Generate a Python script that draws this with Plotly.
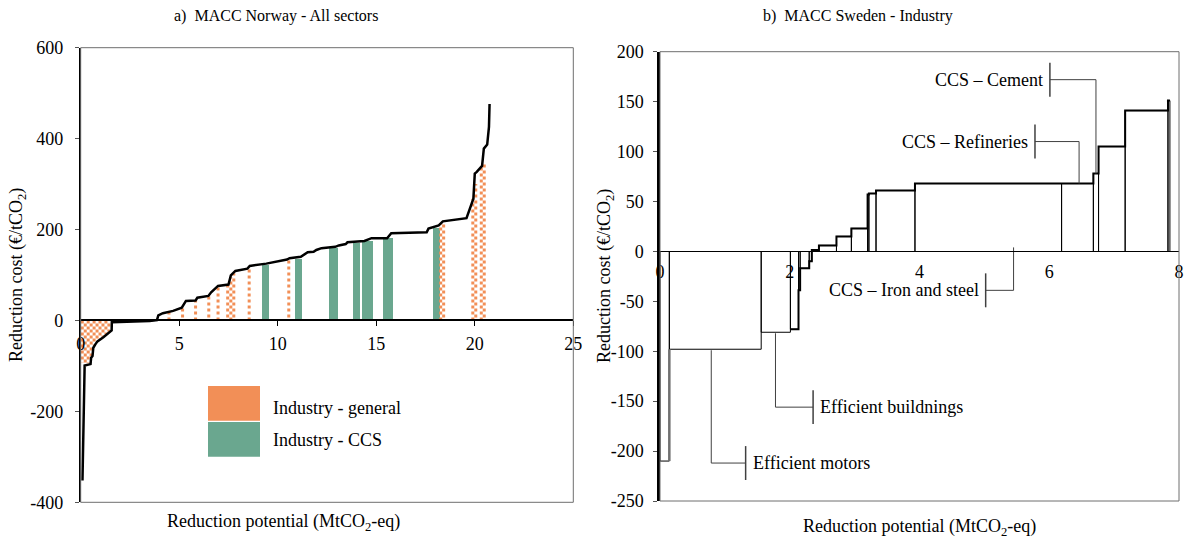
import plotly.graph_objects as go

# ---------------- data: a) MACC Norway - All sectors ----------------
nor_x = [0.09, 0.15, 0.2, 0.5, 0.53, 0.6, 0.64, 0.75, 0.85, 1.15, 1.5, 1.57, 1.58, 2.5, 3.5,
         3.87, 3.94, 4.17, 4.69, 5.13, 5.34, 5.83, 5.92, 6.48, 6.62, 6.97, 7.5, 7.62, 7.85,
         8.46, 8.58, 9.42, 10.47, 10.6, 11.17, 11.52, 11.82, 11.96, 12.22, 12.92, 13.1, 13.45,
         13.54, 14.4, 14.76, 15.55, 15.76, 17.56, 17.65, 18.17, 18.38, 19.58, 19.93, 20.0,
         20.1, 20.37, 20.46, 20.63, 20.72, 20.75]
nor_cost = [-352, -200, -99, -96, -82, -78, -60, -52, -46, -37, -25, -22, -4, -3, -1,
            1, 11, 16, 21, 28, 43, 44, 50, 54, 62, 76, 79, 99, 109,
            114, 120, 125, 134, 137, 140, 150, 151, 155, 159, 162, 165, 168,
            172, 175, 181, 181, 192, 194, 202, 209, 218, 225, 268, 323,
            327, 340, 378, 387, 426, 476]

ccs_start = [9.19, 10.86, 12.59, 13.82, 14.24, 15.34, 17.88]
ccs_end = [9.53, 11.21, 13.03, 14.17, 14.82, 15.83, 18.23]
ccs_cost = [123, 136, 160, 171, 176, 182, 205]

gen_x = [4.48, 5.17, 5.83, 6.5, 6.97, 7.46, 7.62, 7.77, 8.55, 10.56, 18.27, 18.42,
         19.9, 20.05, 20.33, 20.48]
gen_cost = [18, 29, 45, 55, 75, 79, 95, 104, 116, 134, 214, 216, 268, 300, 341, 345]
gen_neg_x = [0.08, 0.23, 0.38, 0.53, 0.68, 0.83, 0.98, 1.13, 1.28, 1.43]
gen_neg_cost = [-93, -95, -94, -78, -55, -46, -41, -37, -31, -25]

nor_xticks = [0, 5, 10, 15, 20, 25]
nor_yticks = [-400, -200, 0, 200, 400, 600]
legend_labels = ["Industry - general", "Industry - CCS"]

# ---------------- data: b) MACC Sweden - Industry ----------------
swe_width = [0.144, 1.416, 0.45, 0.125, 0.025, 0.14, 0.04, 0.11, 0.27, 0.23, 0.25,
             0.02, 0.11, 0.60, 2.26, 0.49, 0.08, 0.41, 0.66, 0.03]
swe_cost = [-210, -98, -81, -78, -39, -17, -10, 1.5, 6, 15, 23,
            57, 58, 61, 68, 68, 78, 105, 141, 151]

swe_xticks = [0, 2, 4, 6, 8]
swe_yticks = [-250, -200, -150, -100, -50, 0, 50, 100, 150, 200]

callout_text = ["CCS – Cement", "CCS – Refineries", "CCS – Iron and steel",
                "Efficient buildnings", "Efficient motors"]
callout_bar_x = [6.01, 5.78, 5.02, 2.36, 1.32]
callout_y = [172, 110, -39, -156, -212]
callout_target_x = [6.72, 6.46, 5.45, 1.78, 0.79]
callout_target_y = [78, 68, 4, -82, -99]

# ---------------- styling ----------------
ORANGE = "#F28F57"
GREEN = "#6AA78F"
FONT = "Liberation Serif"
W, H = 1185, 542

def px(x):
    return x / W

def py(y):
    return 1 - y / H

L_X = [px(80.7), px(573.3)]
L_Y = [py(502.3), py(47.7)]
R_X = [px(660), px(1179)]
R_Y = [py(501), py(51.7)]

# one dot (3 px) expressed in left-panel cost units
L_UNITS_PER_PX = 1000 / (502.3 - 47.7)
PHASE = 3 * L_UNITS_PER_PX

fig = go.Figure()

# --- left: orange dotted columns (industry general), alternating phase -> checker
ox, oy = [], []
for i, (x, c) in enumerate(zip(gen_neg_x, gen_neg_cost)):
    s = -PHASE if i % 2 else 0
    ox += [x, x, None]
    oy += [s, c, None]
for i, (x, c) in enumerate(zip(gen_x, gen_cost)):
    s = PHASE if i % 2 else 0
    ox += [x, x, None]
    oy += [s, c, None]
fig.add_trace(go.Scatter(x=ox, y=oy, mode="lines", xaxis="x", yaxis="y",
                         line=dict(color=ORANGE, width=3, dash="dot"),
                         hoverinfo="skip", showlegend=False))

# --- left: green CCS bars
fig.add_trace(go.Bar(x=[(a + b) / 2 for a, b in zip(ccs_start, ccs_end)],
                     width=[b - a for a, b in zip(ccs_start, ccs_end)],
                     y=ccs_cost, xaxis="x", yaxis="y",
                     marker=dict(color=GREEN, line=dict(width=0)),
                     showlegend=False))

# --- left: cost curve
fig.add_trace(go.Scatter(x=nor_x, y=nor_cost, mode="lines", xaxis="x", yaxis="y",
                         line=dict(color="black", width=2.5),
                         showlegend=False))

# --- right: rectangles
edges = [0.0]
for w in swe_width:
    edges.append(edges[-1] + w)
rx, ry = [], []
for i, c in enumerate(swe_cost):
    x0, x1 = edges[i], edges[i + 1]
    rx += [x0, x0, x1, x1, None]
    ry += [0, c, c, 0, None]
fig.add_trace(go.Scatter(x=rx, y=ry, mode="lines", xaxis="x2", yaxis="y2",
                         line=dict(color="black", width=1),
                         hoverinfo="skip", showlegend=False))

# --- right: thick step line (the cost curve) for upper part
start = next(i for i, c in enumerate(swe_cost) if c > -80)
sx = edges[start:]
sy = swe_cost[start:] + [swe_cost[-1]]
fig.add_trace(go.Scatter(x=sx, y=sy, mode="lines", line_shape="hv",
                         xaxis="x2", yaxis="y2",
                         line=dict(color="black", width=2),
                         showlegend=False))
# riser between first two measures (grey, thick)
fig.add_trace(go.Scatter(x=[edges[1], edges[1]], y=[swe_cost[0], swe_cost[1]],
                         mode="lines", xaxis="x2", yaxis="y2",
                         line=dict(color="#707070", width=2.5),
                         hoverinfo="skip", showlegend=False))

# --- right: callouts
cx, cy, tx, ty = [], [], [], []
for t, bx, y, gx, gy in zip(callout_text, callout_bar_x, callout_y,
                            callout_target_x, callout_target_y):
    cx += [bx, gx, gx, None]
    cy += [y, y, gy, None]
    tx += [bx, bx, None]
    ty += [y - 17, y + 17, None]
    left_side = gx > bx
    fig.add_annotation(x=bx, y=y, xref="x2", yref="y2", text=t, showarrow=False,
                       xanchor="right" if left_side else "left",
                       xshift=-5 if left_side else 5,
                       font=dict(family=FONT, size=18, color="black"))
fig.add_trace(go.Scatter(x=cx, y=cy, mode="lines", xaxis="x2", yaxis="y2",
                         line=dict(color="#404040", width=1),
                         hoverinfo="skip", showlegend=False))
fig.add_trace(go.Scatter(x=tx, y=ty, mode="lines", xaxis="x2", yaxis="y2",
                         line=dict(color="#404040", width=1.5),
                         hoverinfo="skip", showlegend=False))

tickfont = dict(family=FONT, size=18, color="black")

fig.update_layout(
    width=W, height=H, margin=dict(l=0, r=0, t=0, b=0, pad=0), autosize=False,
    paper_bgcolor="white", plot_bgcolor="white",
    showlegend=False, bargap=0,
    font=dict(family=FONT, size=18, color="black"),
    xaxis=dict(domain=L_X, range=[0, 25], anchor="free", automargin=False,
               position=L_Y[0] + 0.4 * (L_Y[1] - L_Y[0]),
               tickvals=nor_xticks, ticktext=[str(v) for v in nor_xticks],
               ticks="outside", ticklen=5, tickcolor="black",
               showline=True, linecolor="black", linewidth=2,
               showgrid=False, zeroline=False, tickfont=tickfont,
               ticklabelstandoff=2),
    yaxis=dict(domain=L_Y, range=[-400, 600], anchor="x", automargin=False,
               tickvals=nor_yticks, ticktext=[str(v) for v in nor_yticks],
               ticks="outside", ticklen=4, tickcolor="#555",
               showline=True, linecolor="black", linewidth=1.5,
               showgrid=False, zeroline=False, tickfont=tickfont,
               ticklabelstandoff=8),
    xaxis2=dict(domain=R_X, range=[0, 8], anchor="free", automargin=False,
                position=R_Y[0] + (250 / 450) * (R_Y[1] - R_Y[0]),
                tickvals=swe_xticks, ticktext=[str(v) for v in swe_xticks],
                ticks="", showline=True, linecolor="black", linewidth=1,
                showgrid=False, zeroline=False, tickfont=tickfont,
                ticklabelstandoff=4),
    yaxis2=dict(domain=R_Y, range=[-250, 200], anchor="x2", automargin=False,
                tickvals=swe_yticks, ticktext=[str(v) for v in swe_yticks],
                ticks="outside", ticklen=4, tickcolor="#555",
                showline=True, linecolor="black", linewidth=2.5,
                showgrid=False, zeroline=False, tickfont=tickfont,
                ticklabelstandoff=6),
)

# frames
for xr, yr in (("x domain", "y domain"), ("x2 domain", "y2 domain")):
    fig.add_shape(type="rect", xref=xr, yref=yr, x0=0, x1=1, y0=0, y1=1,
                  line=dict(color="#6e6e6e", width=1), layer="above")

# legend (left panel)
for (y0, y1), col, lab, ty_ in (((386, 420.7), ORANGE, legend_labels[0], 407.7),
                                ((422, 456.7), GREEN, legend_labels[1], 440)):
    fig.add_shape(type="rect", xref="paper", yref="paper",
                  x0=px(208), x1=px(260), y0=py(y1), y1=py(y0),
                  fillcolor=col, line=dict(width=0))
    fig.add_annotation(x=px(271), y=py(ty_), xref="paper", yref="paper",
                       text=lab, showarrow=False, xanchor="left", yanchor="middle",
                       font=dict(family=FONT, size=18, color="black"))

# titles & axis titles
texts = [
    ("a)  MACC Norway - All sectors", 276, 16, 16, 0),
    ("b)  MACC Sweden - Industry", 858, 16, 16, 0),
    ("Reduction potential (MtCO<sub>2</sub>-eq)", 283, 522, 18, 0),
    ("Reduction potential (MtCO<sub>2</sub>-eq)", 919, 527, 18, 0),
    ("Reduction cost (€/tCO<sub>2</sub>)", 17, 275, 18, -90),
    ("Reduction cost (€/tCO<sub>2</sub>)", 605, 276, 18, -90),
]
for t, x, y, s, a in texts:
    fig.add_annotation(x=px(x), y=py(y), xref="paper", yref="paper", text=t,
                       showarrow=False, xanchor="center", yanchor="middle",
                       textangle=a, font=dict(family=FONT, size=s, color="black"))

fig.write_html("out.html")
